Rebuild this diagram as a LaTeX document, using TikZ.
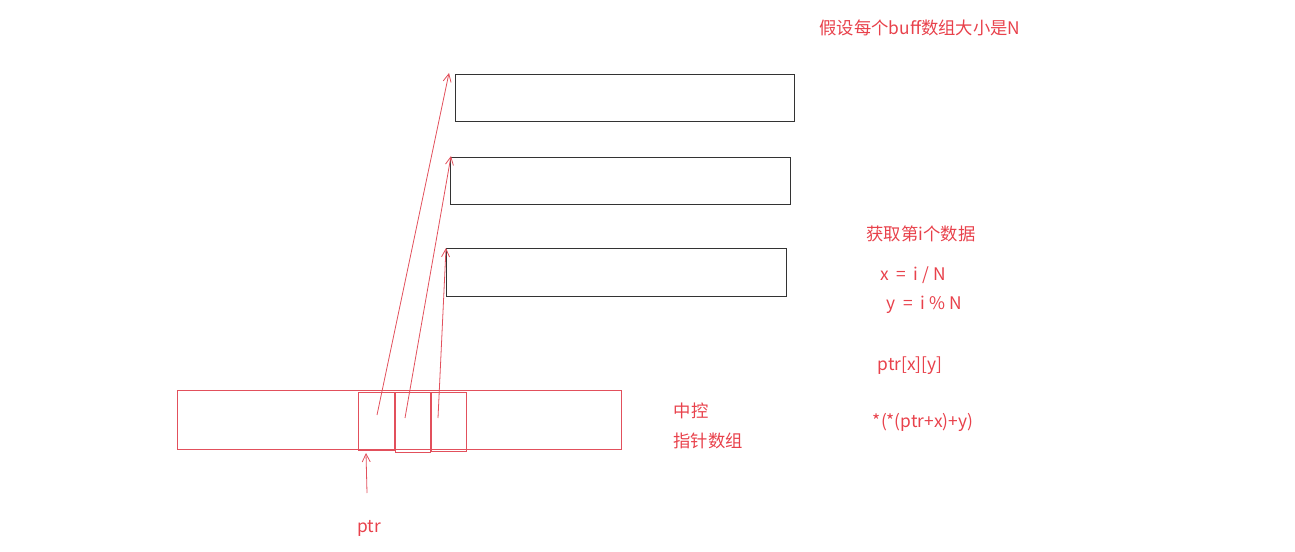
\documentclass[tikz,border=0pt]{standalone}
\usepackage{fontspec}
\setmainfont{Noto Sans CJK SC}
\usetikzlibrary{arrows.meta}
\definecolor{txtred}{HTML}{E8414B}
\definecolor{boxred}{HTML}{E2505C}
\definecolor{boxblack}{HTML}{333333}
\begin{document}
\begin{tikzpicture}[x=0.75pt,y=-0.75pt,
  bufbox/.style={draw=boxblack,line width=0.6pt},
  redbox/.style={draw=boxred,line width=0.6pt},
  redarrow/.style={draw=boxred,line width=0.6pt,-{Straight Barb[length=6pt,width=6pt]}},
  lbl/.style={text=txtred,font=\fontsize{13}{15}\selectfont,inner sep=0pt}]
\useasboundingbox (0,0) rectangle (1295,552);
% buffers
\draw[bufbox] (455,74) rectangle (794,121);
\draw[bufbox] (450,157) rectangle (790,204);
\draw[bufbox] (446,248) rectangle (786,296);
% control array
\draw[redbox] (177,390) rectangle (621,449);
\draw[redbox] (358,392) rectangle (394,450);
\draw[redbox] (395,392) rectangle (430,452);
\draw[redbox] (431,392) rectangle (466,451);
% coordinates
\coordinate (s1) at (377,415);
\coordinate (t1) at (449,73);
\coordinate (s2) at (405,418);
\coordinate (t2) at (451,156);
\coordinate (s3) at (438,418);
\coordinate (t3) at (446,248);
\coordinate (sp) at (367,493);
\coordinate (tp) at (366,453);
\draw[redarrow] (s1) -- (t1);
\draw[redarrow] (s2) -- (t2);
\draw[redarrow] (s3) -- (t3);
\draw[redarrow] (sp) -- (tp);
% texts
\node[lbl] (title) at (920,28) {假设每个buff数组大小是N};
\node[lbl] (get) at (921,234) {获取第i个数据};
\node[lbl] (xeq) at (913,275) {x\ \ =\ \ i / N};
\node[lbl] (yeq) at (924,305) {y\ \ =\ \ i \% N};
\node[lbl] (pxy) at (910,366) {ptr[x][y]};
\node[lbl] (deref) at (923,422) {*(*(ptr+x)+y)};
\node[lbl] (zk) at (691,411) {中控};
\node[lbl] (zz) at (708,441) {指针数组};
\node[lbl] (ptr) at (369,528) {ptr};
\end{tikzpicture}
\end{document}
